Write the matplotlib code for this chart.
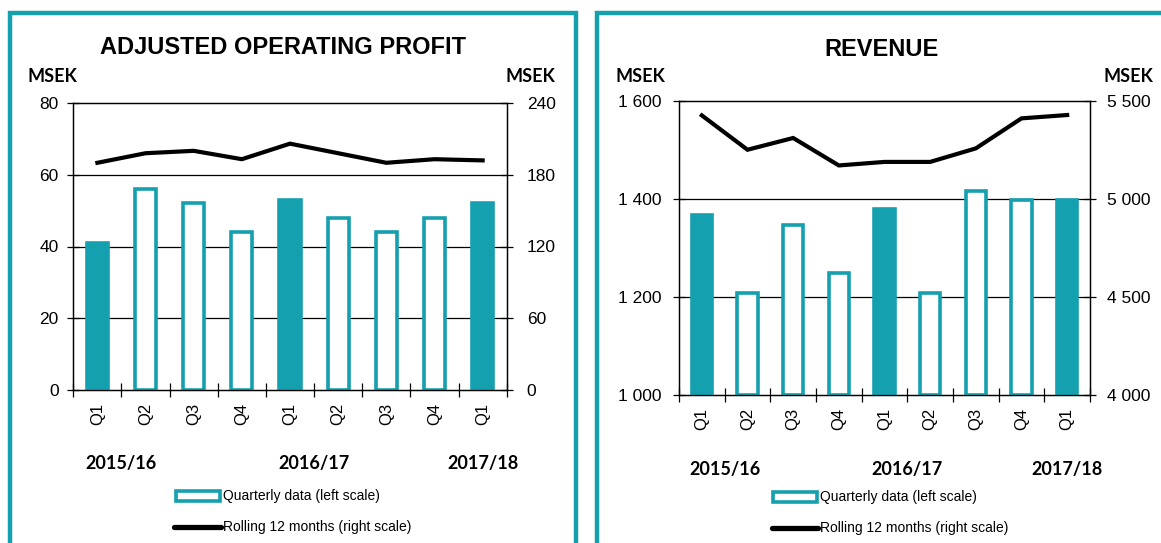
import numpy as np
import matplotlib.pyplot as plt
from matplotlib.patches import Rectangle
from matplotlib.lines import Line2D
from matplotlib import transforms

plt.rcParams.update({
    "font.family": ["Liberation Sans", "DejaVu Sans"],
    "font.size": 11,
    "axes.linewidth": 0.9,
})

W, H = 1161, 543
TEAL = "#14A0AE"

# data
quarters = ["Q1", "Q2", "Q3", "Q4", "Q1", "Q2", "Q3", "Q4", "Q1"]
filled = [True, False, False, False, True, False, False, False, True]
years = ["2015/16", "2016/17", "2017/18"]
year_pos = [0.5, 4.5, 8]

profit_q = [41, 56, 52, 44, 53, 48, 44, 48, 52]
profit_r12 = [190, 198, 200, 193, 206, 198, 190, 193, 192]
profit_left_ticks = [0, 20, 40, 60, 80]
profit_right_ticks = [0, 60, 120, 180, 240]

revenue_q = [1367, 1207, 1347, 1249, 1379, 1207, 1416, 1398, 1398]
revenue_r12 = [5425, 5250, 5310, 5170, 5188, 5188, 5257, 5410, 5427]
revenue_left_ticks = [1000, 1200, 1400, 1600]
revenue_right_ticks = [4000, 4500, 5000, 5500]


def fx(x):
    return x / W


def fy(y):
    return 1 - y / H


def fmt(v):
    return f"{v:,}".replace(",", " ")


fig = plt.figure(figsize=(W / 100, H / 100), dpi=100)


def panel(box, frame, title, title_xy, msek_l, msek_r, q, r12, lt, rt,
          pad_l, pad_r, year_y, leg_x, leg_y):
    x0, y0, x1, y1 = box
    ax = fig.add_axes([fx(x0), fy(y1), (x1 - x0) / W, (y1 - y0) / H])
    ax.set_zorder(1)
    x = np.arange(len(q))
    base = lt[0]
    for i in x:
        ax.bar(i, q[i] - base, bottom=base, width=0.44,
               color=TEAL if filled[i] else "white",
               edgecolor=TEAL, linewidth=2.6, zorder=3)
    ax.set_xlim(-0.5, len(q) - 0.5)
    ax.set_ylim(lt[0], lt[-1])
    ax.set_yticks(lt)
    ax.set_yticklabels([fmt(v) for v in lt])
    for v in lt[1:-1]:
        ax.axhline(v, color="black", lw=0.9, zorder=1)
    ax.set_xticks(np.arange(-0.5, len(q), 1))
    ax.set_xticklabels([])
    ax.set_xticks(x, minor=True)
    ax.set_xticklabels(quarters, minor=True, rotation=90)
    ax.tick_params(axis="x", which="major", direction="inout", length=10, width=0.9)
    ax.tick_params(axis="x", which="minor", length=0, pad=9, labelsize=12)
    ax.tick_params(axis="y", direction="inout", length=9, width=0.9, pad=pad_l,
                   labelsize=12.5)

    ax2 = ax.twinx()
    ax2.plot(x, r12, color="black", lw=3, solid_joinstyle="miter", zorder=4)
    ax2.set_ylim(rt[0], rt[-1])
    ax2.set_yticks(rt)
    ax2.set_yticklabels([fmt(v) for v in rt])
    ax2.tick_params(axis="y", direction="inout", length=9, width=0.9, pad=pad_r,
                    labelsize=12.5)

    # frame around the panel
    fx0, fy0, fx1 = frame
    fig.patches.append(Rectangle((fx(fx0), fy(548)), (fx1 - fx0) / W, (548 - fy0) / H,
                                 transform=fig.transFigure, fill=False,
                                 edgecolor=TEAL, lw=3.2, zorder=0))

    fig.text(fx(title_xy[0]), fy(title_xy[1]), title, ha="center", va="center",
             fontsize=17, fontweight="bold")
    fig.text(fx(msek_l), fy(77), "MSEK", ha="center", va="center",
             family="Lato", fontsize=13, fontweight="bold")
    fig.text(fx(msek_r), fy(77), "MSEK", ha="center", va="center",
             family="Lato", fontsize=13, fontweight="bold")

    tr = transforms.blended_transform_factory(ax.transData, fig.transFigure)
    for lab, p in zip(years, year_pos):
        ax.text(p, fy(year_y), lab, transform=tr, ha="center", va="center",
                family="Lato", fontsize=13, fontweight="bold", clip_on=False)

    # legend
    fig.patches.append(Rectangle((fx(leg_x + 1.5), fy(leg_y + 5)), 44 / W, 10 / H,
                                 transform=fig.transFigure, facecolor="white",
                                 edgecolor=TEAL, lw=2.6))
    fig.text(fx(leg_x + 49), fy(leg_y), "Quarterly data (left scale)",
             ha="left", va="center", fontsize=10)
    fig.lines.append(Line2D([fx(leg_x), fx(leg_x + 47)], [fy(leg_y + 31)] * 2,
                            transform=fig.transFigure, color="black", lw=3.8,
                            solid_capstyle="round"))
    fig.text(fx(leg_x + 49), fy(leg_y + 31), "Rolling 12 months (right scale)",
             ha="left", va="center", fontsize=10)
    return ax


panel((73.3, 103, 506.7, 390), (9.5, 12.5, 575.5), "ADJUSTED OPERATING PROFIT",
      (283, 48), 52, 530, profit_q, profit_r12, profit_left_ticks,
      profit_right_ticks, 6, 10, 463, 174, 496)

panel((679, 100.7, 1090, 395), (597, 12.5, 1175), "REVENUE",
      (881, 50), 640, 1128, revenue_q, revenue_r12, revenue_left_ticks,
      revenue_right_ticks, 8, 8, 470, 771.5, 497)

fig.savefig("out.png", dpi=100)
